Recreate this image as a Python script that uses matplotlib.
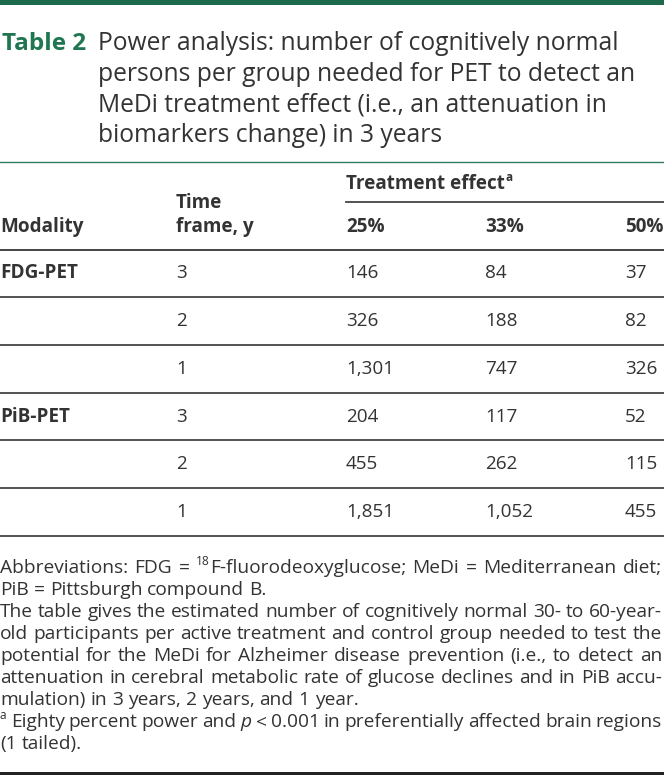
import matplotlib
matplotlib.use("Agg")
import matplotlib.pyplot as plt

# table content
title_label = "Table 2"
title_lines = ["Power analysis: number of cognitively normal",
               "persons per group needed for PET to detect an",
               "MeDi treatment effect (i.e., an attenuation in",
               "biomarkers change) in 3 years"]
col_headers = ["Modality", "Time\nframe, y", "25%", "33%", "50%"]
modality = ["FDG-PET", "", "", "PiB-PET", "", ""]
time_frame = ["3", "2", "1", "3", "2", "1"]
effect_25 = ["146", "326", "1,301", "204", "455", "1,851"]
effect_33 = ["84", "188", "747", "117", "262", "1,052"]
effect_50 = ["37", "82", "326", "52", "115", "455"]

# footnote lines: (pieces, justified); piece kinds n=normal, s=superscript, i=italic
notes = [
    ([("Abbreviations: FDG = ", "n"), ("18", "s"), ("F-fluorodeoxyglucose; MeDi = Mediterranean diet;", "n")], True),
    ([("PiB = Pittsburgh compound B.", "n")], False),
    ([("The table gives the estimated number of cognitively normal 30- to 60-year-", "n")], True),
    ([("old participants per active treatment and control group needed to test the", "n")], True),
    ([("potential for the MeDi for Alzheimer disease prevention (i.e., to detect an", "n")], True),
    ([("attenuation in cerebral metabolic rate of glucose declines and in PiB accu-", "n")], True),
    ([("mulation) in 3 years, 2 years, and 1 year.", "n")], False),
    ([("a", "s"), (" Eighty percent power and ", "n"), ("p", "i"), (" < 0.001 in preferentially affected brain regions", "n")], True),
    ([("(1 tailed).", "n")], False),
]

W, H = 664, 775
green = "#1d6b4c"
txt = "#333333"
rule = "#444444"
FONT = "Open Sans"

fig = plt.figure(figsize=(W / 100, H / 100), dpi=100)
ax = fig.add_axes([0, 0, 1, 1])
ax.set_xlim(0, W)
ax.set_ylim(H, 0)
ax.axis("off")
renderer = fig.canvas.get_renderer()


def width_of(t):
    return t.get_window_extent(renderer).width


def natural_width(s, size):
    t = ax.text(0, 0, s, fontsize=size, family=FONT)
    w = width_of(t)
    t.remove()
    return w


def draw_pieces(x, y, pieces, size, target=None):
    # split the pieces into words so that a line can be justified
    words = [[]]
    for text, kind in pieces:
        parts = text.split(" ")
        for k, p in enumerate(parts):
            if k > 0:
                words.append([])
            if p:
                words[-1].append((p, kind))
    words = [w for w in words if w]
    arts = []
    total = 0
    for w in words:
        wa = []
        for p, kind in w:
            kw = dict(fontsize=size, family=FONT, color=txt, va="baseline", ha="left")
            dy = 0
            if kind == "s":
                kw["fontsize"] = size * 0.62
                dy = -size * 0.55
            if kind == "i":
                kw["style"] = "italic"
            t = ax.text(0, y + dy, p, **kw)
            wa.append(t)
        wl = sum(width_of(t) for t in wa)
        arts.append((wa, wl))
        total += wl
    gap = natural_width("a a", size) - 2 * natural_width("a", size)
    if target is not None and len(arts) > 1:
        gap = (target - total) / (len(arts) - 1)
    cx = x
    for wa, wl in arts:
        for t in wa:
            t.set_x(cx)
            cx += width_of(t)
        cx += gap


# top bar
ax.fill_between([0, W], 0, 5, color=green, lw=0)

# title
ax.text(2, 50, title_label, fontsize=17.5, family=FONT, weight="bold", color="#1f7650", va="baseline")
for i, line in enumerate(title_lines):
    ax.text(98, 50 + i * 30.6, line, fontsize=17.7, family=FONT, color=txt, va="baseline")

ax.plot([0, W], [162, 162], color="#2f7d5c", lw=1.0)

# header
col_x = [0, 176, 346, 485, 625]
hs = 13.6
te = ax.text(346, 189, "Treatment effect", fontsize=hs, family=FONT, weight="bold", color=txt, va="baseline")
ax.text(346 + width_of(te) + 1, 181, "a", fontsize=hs * 0.62, family=FONT, weight="bold", color=txt, va="baseline")
ax.plot([346, W], [201.5, 201.5], color=rule, lw=1.3)
ax.text(col_x[0], 232, col_headers[0], fontsize=hs, family=FONT, weight="bold", color=txt, va="baseline")
ax.text(col_x[1], 208, col_headers[1].split("\n")[0], fontsize=hs, family=FONT, weight="bold", color=txt, va="baseline")
ax.text(col_x[1], 232, col_headers[1].split("\n")[1], fontsize=hs, family=FONT, weight="bold", color=txt, va="baseline")
for j in range(2, 5):
    ax.text(col_x[j], 232, col_headers[j], fontsize=hs, family=FONT, weight="bold", color=txt, va="baseline")
ax.plot([0, W], [249.5, 249.5], color=rule, lw=1.4)

# body rows
row_h = 47.7
for i in range(len(modality)):
    yb = 278.5 + i * row_h
    ax.text(col_x[0], yb, modality[i], fontsize=hs, family=FONT, weight="bold", color=txt, va="baseline")
    for j, col in enumerate([time_frame, effect_25, effect_33, effect_50]):
        ax.text(col_x[j + 1], yb, col[i], fontsize=hs, family=FONT, color=txt, va="baseline")
    ax.plot([0, W], [249.5 + (i + 1) * row_h, 249.5 + (i + 1) * row_h], color=rule, lw=1.3)

# footnotes, size picked so the longest plain line fills the width
fs = 12.0 * 658 / natural_width(notes[2][0][0][0], 12.0)
for i, (pieces, just) in enumerate(notes):
    draw_pieces(0, 573 + i * 22, pieces, fs, target=662 if just else None)

ax.fill_between([0, W], 771.5, 775, color="#222222", lw=0)

fig.savefig("out.png", dpi=100)
